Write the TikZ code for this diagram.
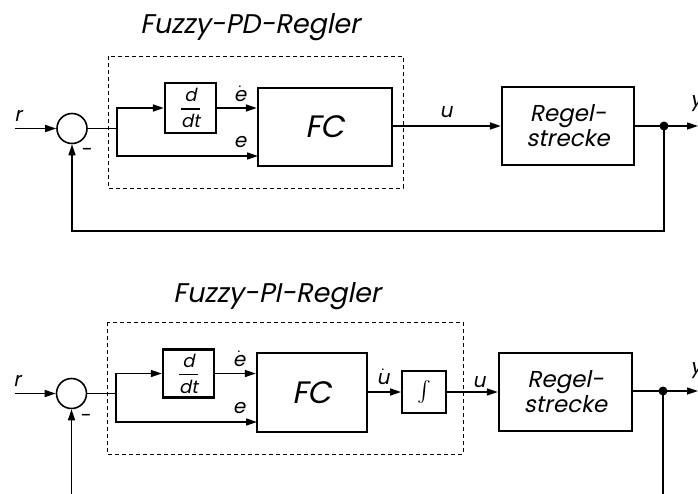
\documentclass[tikz,border=0pt]{standalone}
\usepackage{amsmath}
\usepackage{fontspec}
\newfontfamily\gf[FakeSlant=0.2]{Poppins}
\usetikzlibrary{arrows.meta,calc}
\begin{document}
\begin{tikzpicture}[x=1pt,y=-1pt,
  blk/.style={draw, line width=2.3pt, inner sep=0pt},
  wire/.style={line width=1.6pt},
  sig/.style={line width=1.6pt, -{Triangle[length=11pt,width=7pt]}},
  frame/.style={draw, line width=0.9pt, dash pattern=on 4pt off 3pt},
  lbl/.style={font=\gf\fontsize{20}{20}\selectfont, inner sep=0pt},
  ttl/.style={font=\gf\fontsize{27}{27}\selectfont, inner sep=0pt, anchor=base},
  fcs/.style={font=\gf\fontsize{31}{31}\selectfont},
  rss/.style={font=\gf\fontsize{23}{25}\selectfont, align=center},
  dds/.style={font=\gf\fontsize{18}{18}\selectfont},
  sumc/.style={draw, circle, line width=1.6pt, minimum size=30pt, inner sep=0pt},
  dot/.style={fill, circle, minimum size=9pt, inner sep=0pt}]
\useasboundingbox (0,0) rectangle (698,493);

% ---------------- top: Fuzzy-PD-Regler ----------------
\node[ttl] (t1) at (250,33) {Fuzzy-PD-Regler};
\draw[frame] (108,56) rectangle (403,188);
\node[sumc] (c1) at (72,128.5) {};
\node[blk, minimum width=51pt, minimum height=50pt, dds] (dd1) at (190.5,108) {$\genfrac{}{}{1.5pt}{0}{\mbox{d}}{\mbox{dt}}$};
\node[blk, minimum width=134pt, minimum height=78pt, fcs] (fc1) at (325,127) {FC};
\node[blk, minimum width=132pt, minimum height=78pt, rss] (rs1) at (568,126) {Regel-\\strecke};
\coordinate (rin1) at (15,128.5);
\coordinate (b1) at (117,128.5);
\coordinate (e1) at (258,156);
\coordinate (o1) at (664,126);
\coordinate (y1) at (698,126);
\coordinate (fb1) at (664,231);
\draw[sig] (rin1) -- (c1);
\draw[wire] (c1) -- (b1);
\draw[sig] (b1) |- (dd1.west);
\draw[sig] (b1) |- (e1);
\draw[sig] (dd1.east) -- (dd1.east -| fc1.west);
\draw[sig] (fc1.east |- o1) -- (rs1.west |- o1);
\draw[wire] (rs1.east |- o1) -- (o1);
\draw[sig] (o1) -- (y1);
\draw[sig] (o1) -- (fb1) -| (c1.south);
\node[dot] (d1) at (o1) {};
\node[lbl] (lr1) at (18,116) {r};
\node[lbl] (led1) at (240,94) {$\dot{\hbox{\gf e}}$};
\node[lbl] (le1) at (240,142) {e};
\node[lbl] (lu1) at (446,112) {u};
\node[lbl] (ly1) at (696,104) {y};
\node[lbl] (lm1) at (86,152) {-};

% ---------------- bottom: Fuzzy-PI-Regler ----------------
\node[ttl] (t2) at (277,302) {Fuzzy-PI-Regler};
\draw[frame] (107,322) rectangle (463,454);
\node[sumc] (c2) at (71.5,393.5) {};
\node[blk, minimum width=51pt, minimum height=48pt, dds] (dd2) at (188.5,373.5) {$\genfrac{}{}{1.5pt}{0}{\mbox{d}}{\mbox{dt}}$};
\node[blk, minimum width=110pt, minimum height=79pt, fcs] (fc2) at (312,392.5) {FC};
\node[blk, minimum width=44pt, minimum height=42pt, line width=1.8pt, font=\fontsize{22}{22}\selectfont] (in2) at (424,392) {$\int$};
\node[blk, minimum width=133pt, minimum height=78pt, rss] (rs2) at (565.5,392) {Regel-\\strecke};
\coordinate (rin2) at (15,393.5);
\coordinate (b2) at (116,393.5);
\coordinate (e2) at (257,422);
\coordinate (o2) at (663,391);
\coordinate (y2) at (698,391);
\coordinate (fb2) at (663,500);
\coordinate (fc2b) at (71.5,500);
\draw[sig] (rin2) -- (c2);
\draw[wire] (c2) -- (b2);
\draw[sig] (b2) |- (dd2.west);
\draw[sig] (b2) |- (e2);
\draw[sig] (dd2.east) -- (dd2.east -| fc2.west);
\draw[sig] (fc2.east |- in2) -- (in2.west);
\draw[sig] (in2.east) -- (rs2.west |- in2);
\draw[wire] (rs2.east |- o2) -- (o2);
\draw[sig] (o2) -- (y2);
\draw[wire] (o2) -- (fb2);
\draw[sig] (fc2b) -- (c2.south);
\node[dot] (d2) at (o2) {};
\node[lbl] (lr2) at (17,381) {r};
\node[lbl] (led2) at (239,359) {$\dot{\hbox{\gf e}}$};
\node[lbl] (le2) at (239,408) {e};
\node[lbl] (lud2) at (383,377) {$\dot{\hbox{\gf u}}$};
\node[lbl] (lu2) at (479,382) {u};
\node[lbl] (ly2) at (696,371) {y};
\node[lbl] (lm2) at (85,418) {-};
\end{tikzpicture}
\end{document}
